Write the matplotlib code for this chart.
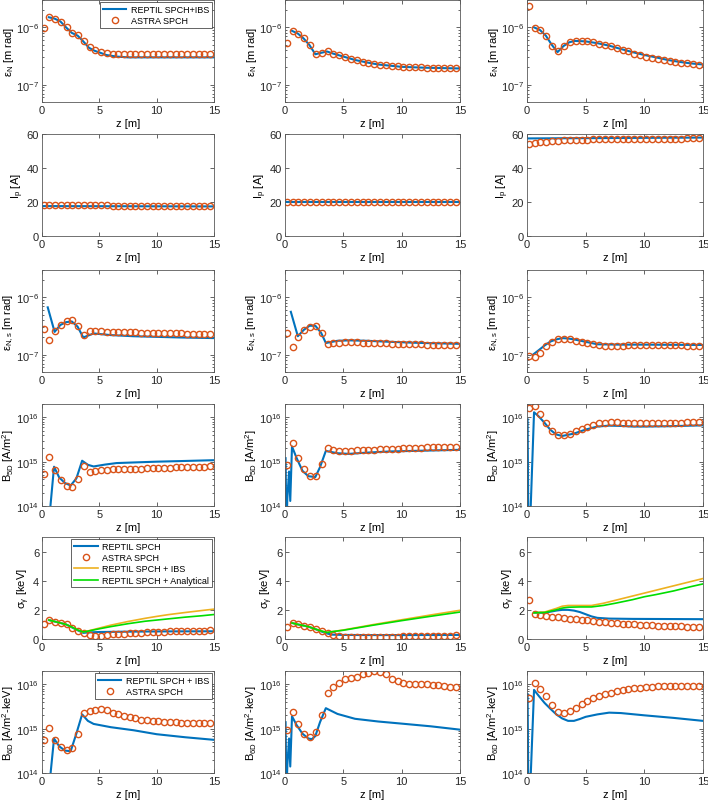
import numpy as np
import matplotlib.pyplot as plt

plt.rcParams['font.family'] = ['Liberation Sans', 'DejaVu Sans']
plt.rcParams['mathtext.fontset'] = 'custom'
plt.rcParams['mathtext.rm'] = 'Liberation Sans'
plt.rcParams['mathtext.it'] = 'Liberation Sans:italic'
plt.rcParams['mathtext.default'] = 'regular'
plt.rcParams['font.size'] = 8

# ---------------- data ----------------
# ASTRA sample positions (shared by every panel)
z_astra = [0.15, 0.65, 1.15, 1.65, 2.15, 2.65, 3.15, 3.65, 4.15, 4.65,
           5.15, 5.65, 6.15, 6.65, 7.15, 7.65, 8.15, 8.65, 9.15, 9.65,
           10.15, 10.65, 11.15, 11.65, 12.15, 12.65, 13.15, 13.65, 14.15, 14.65]

# row 1 : normalised emittance [1e-6 m rad]
eps_astra_1 = [0.97, 1.51, 1.41, 1.26, 1.0, 0.81, 0.73, 0.59, 0.45, 0.40, 0.37, 0.355, 0.345, 0.345, 0.345,
               0.345, 0.35, 0.35, 0.35, 0.35, 0.35, 0.35, 0.35, 0.35, 0.35, 0.35, 0.35, 0.35, 0.35, 0.35]
eps_rep_z_1 = [0.6, 1.1, 1.6, 2.1, 2.6, 3.1, 3.6, 4.1, 4.6, 5.1, 5.6, 6.5, 7.5, 9, 12, 15]
eps_rep_1 = [1.5, 1.42, 1.27, 1.0, 0.8, 0.72, 0.57, 0.44, 0.39, 0.36, 0.33, 0.31, 0.30, 0.30, 0.30, 0.30]
eps_astra_2 = [0.53, 0.88, 0.78, 0.65, 0.49, 0.35, 0.36, 0.39, 0.35, 0.33, 0.30, 0.28, 0.27, 0.25, 0.24,
               0.23, 0.225, 0.22, 0.215, 0.21, 0.205, 0.20, 0.20, 0.20, 0.197, 0.195, 0.195, 0.195, 0.193, 0.193]
eps_rep_z_2 = [0.6, 1.1, 1.6, 2.1, 2.6, 3.1, 3.6, 4.1, 5, 6, 7, 8, 9, 10, 12, 15]
eps_rep_2 = [0.87, 0.78, 0.64, 0.49, 0.34, 0.36, 0.38, 0.35, 0.31, 0.27, 0.245, 0.225, 0.215, 0.205, 0.198, 0.192]
eps_astra_3 = [2.4, 0.99, 0.9, 0.72, 0.48, 0.38, 0.48, 0.55, 0.58, 0.58, 0.57, 0.55, 0.52, 0.50, 0.47,
               0.44, 0.41, 0.385, 0.35, 0.33, 0.31, 0.295, 0.28, 0.27, 0.26, 0.25, 0.24, 0.235, 0.23, 0.225]
eps_rep_z_3 = [0.6, 1.1, 1.6, 2.1, 2.6, 3.1, 3.6, 4.1, 5, 6, 7, 8, 9, 10, 11, 12, 13, 14, 15]
eps_rep_3 = [1.0, 0.9, 0.72, 0.5, 0.37, 0.47, 0.55, 0.58, 0.57, 0.53, 0.48, 0.42, 0.37, 0.33, 0.30, 0.27, 0.25, 0.235, 0.225]

# row 2 : peak current [A]
ip_astra_1 = [18.2, 18.2, 18.1, 18.1, 18.1, 18.0, 18.0, 18.0, 18.0, 18.0, 18.0, 18.0, 17.9, 17.9, 17.9,
              17.9, 17.9, 17.9, 17.9, 17.9, 17.9, 17.9, 17.9, 17.9, 17.9, 17.9, 17.9, 17.9, 17.9, 17.9]
ip_rep_z_1 = [0.1, 15]
ip_rep_1 = [17.6, 17.4]
ip_astra_2 = [20.0, 20.0, 20.0, 20.0, 20.0, 20.0, 20.0, 20.0, 20.0, 20.0, 20.0, 20.0, 20.0, 20.0, 20.0,
              20.0, 20.0, 20.0, 20.0, 20.0, 20.0, 20.0, 20.0, 20.0, 20.0, 20.0, 20.0, 20.0, 20.0, 20.0]
ip_rep_z_2 = [0.1, 15]
ip_rep_2 = [19.8, 19.8]
ip_astra_3 = [54.3, 54.8, 55.2, 55.5, 55.8, 56.0, 56.2, 56.3, 56.5, 56.6, 56.7, 56.8, 56.9, 57.0, 57.0,
              57.1, 57.1, 57.2, 57.2, 57.2, 57.3, 57.3, 57.3, 57.3, 57.3, 57.3, 57.3, 57.4, 57.4, 57.4]
ip_rep_z_3 = [0.1, 15]
ip_rep_3 = [57.4, 57.9]

# row 3 : slice emittance [1e-6 m rad]
epss_astra_1 = [0.28, 0.18, 0.26, 0.33, 0.38, 0.40, 0.32, 0.225, 0.26, 0.26, 0.255, 0.25, 0.25, 0.248, 0.247,
                0.245, 0.245, 0.243, 0.242, 0.24, 0.24, 0.238, 0.237, 0.236, 0.235, 0.234, 0.233, 0.232, 0.231, 0.23]
epss_rep_z_1 = [0.5, 1.1, 1.6, 2.1, 2.6, 3.1, 3.6, 4.5, 6, 8, 10, 12, 15]
epss_rep_1 = [0.67, 0.25, 0.33, 0.37, 0.38, 0.31, 0.2, 0.235, 0.22, 0.21, 0.205, 0.2, 0.195]
epss_astra_2 = [0.24, 0.137, 0.2, 0.265, 0.31, 0.32, 0.235, 0.156, 0.158, 0.163, 0.165, 0.165, 0.164, 0.163, 0.162,
                0.16, 0.158, 0.157, 0.156, 0.155, 0.154, 0.153, 0.152, 0.151, 0.15, 0.15, 0.149, 0.149, 0.148, 0.148]
epss_rep_z_2 = [0.5, 1.1, 1.6, 2.1, 2.6, 3.1, 3.5, 4.5, 5.5, 7, 9, 11, 13, 15]
epss_rep_2 = [0.56, 0.21, 0.27, 0.32, 0.32, 0.24, 0.16, 0.175, 0.178, 0.175, 0.168, 0.162, 0.158, 0.155]
epss_astra_3 = [0.096, 0.09, 0.108, 0.14, 0.165, 0.185, 0.19, 0.185, 0.175, 0.165, 0.158, 0.152, 0.146, 0.144, 0.143,
                0.143, 0.144, 0.145, 0.146, 0.147, 0.147, 0.147, 0.147, 0.146, 0.146, 0.145, 0.145, 0.144, 0.144, 0.143]
epss_rep_z_3 = [0.5, 1, 1.5, 2, 2.5, 3, 3.5, 4, 5, 6, 8, 10, 12, 15]
epss_rep_3 = [0.1, 0.12, 0.145, 0.17, 0.185, 0.195, 0.192, 0.185, 0.168, 0.152, 0.15, 0.15, 0.149, 0.148]

# row 4 : 5D brightness [1e14 A/m^2]
b5_astra_1 = [5.2, 13, 6.5, 3.9, 2.85, 2.7, 4.0, 8.1, 6.0, 6.2, 6.5, 6.6, 6.7, 6.8, 6.9,
              6.9, 7.0, 7.0, 7.1, 7.1, 7.2, 7.3, 7.3, 7.4, 7.5, 7.5, 7.6, 7.7, 7.7, 7.8]
b5_rep_z_1 = [0.55, 1.05, 1.5, 2.0, 2.5, 3.0, 3.5, 4.0, 4.5, 5.5, 6.5, 8, 10, 12, 15]
b5_rep_1 = [0.3, 7.7, 4.4, 3.3, 2.9, 4.2, 10.5, 8.5, 7.8, 8.6, 9.3, 9.6, 10, 10.3, 10.8]
b5_astra_2 = [8.3, 27, 12, 6.7, 4.7, 4.7, 8.7, 20, 18.5, 17.5, 17.5, 17.5, 18, 18.3, 18.5,
              18.8, 19, 19.3, 19.5, 19.8, 20, 20.3, 20.5, 20.8, 21, 21, 21, 21.2, 21.3, 21.5]
b5_rep_z_2 = [0.05, 0.12, 0.2, 0.35, 0.45, 0.6, 1.0, 1.5, 2.0, 2.6, 3.0, 3.5, 4.5, 5.5, 7, 9, 11, 13, 15]
b5_rep_2 = [12, 0.3, 1.5, 6, 1.3, 22, 12, 6.2, 4.7, 4.5, 7.5, 17.5, 15.5, 15, 16, 17, 17.5, 18, 18.5]
b5_astra_3 = [164, 180, 120, 74, 49, 41, 40, 43, 49, 55, 62, 68, 73, 75, 78,
              77, 75, 74, 73, 73, 73, 73, 73, 73, 74, 75, 76, 77, 77, 78]
b5_rep_z_3 = [0.05, 0.12, 0.25, 0.6, 1.0, 1.5, 2.0, 2.5, 3.0, 4.0, 5.0, 6.0, 7.0, 8, 9, 10, 12, 15]
b5_rep_3 = [90, 0.3, 0.3, 130, 105, 75, 52, 41, 38, 43, 53, 62, 65, 64, 62, 62, 63, 66]

# row 5 : energy spread [keV]
sg_astra_1 = [1.0, 1.29, 1.2, 1.1, 1.0, 0.78, 0.55, 0.4, 0.27, 0.22, 0.24, 0.27, 0.31, 0.34, 0.37,
              0.4, 0.42, 0.44, 0.46, 0.48, 0.5, 0.51, 0.52, 0.53, 0.54, 0.55, 0.56, 0.57, 0.58, 0.6]
sg_rep_z_1 = [0.6, 1.1, 1.6, 2.1, 2.6, 3.1, 3.6, 4.0, 5, 7, 10, 15]
sg_rep_1 = [1.3, 1.2, 1.1, 1.0, 0.8, 0.6, 0.42, 0.45, 0.48, 0.5, 0.52, 0.53]
sg_ibs_z_1 = [0.6, 1.1, 1.6, 2.1, 2.6, 3.1, 3.6, 4.0, 5, 6, 7.5, 9, 10, 11, 12.5, 14, 15]
sg_ibs_1 = [1.3, 1.2, 1.1, 1.0, 0.82, 0.62, 0.48, 0.55, 0.75, 0.95, 1.2, 1.42, 1.55, 1.67, 1.82, 1.96, 2.05]
sg_ana_1 = [1.3, 1.2, 1.1, 1.0, 0.82, 0.62, 0.48, 0.54, 0.7, 0.85, 1.05, 1.22, 1.3, 1.38, 1.5, 1.6, 1.68]
sg_astra_2 = [0.85, 1.1, 1.0, 0.92, 0.82, 0.68, 0.52, 0.38, 0.27, 0.2, 0.17, 0.15, 0.14, 0.14, 0.14,
              0.14, 0.15, 0.15, 0.16, 0.17, 0.18, 0.19, 0.2, 0.21, 0.22, 0.22, 0.23, 0.23, 0.24, 0.25]
sg_rep_z_2 = [0.6, 1.1, 1.6, 2.1, 2.6, 3.1, 3.6, 4.0, 5, 7, 10, 15]
sg_rep_2 = [1.1, 1.0, 0.92, 0.82, 0.68, 0.52, 0.38, 0.3, 0.28, 0.27, 0.27, 0.28]
sg_ibs_z_2 = [0.6, 1.1, 1.6, 2.1, 2.6, 3.1, 3.6, 4.0, 5, 7.5, 10, 12.5, 15]
sg_ibs_2 = [1.1, 1.0, 0.92, 0.82, 0.68, 0.55, 0.45, 0.5, 0.62, 0.98, 1.32, 1.65, 1.97]
sg_ana_2 = [1.1, 1.0, 0.92, 0.82, 0.68, 0.55, 0.45, 0.5, 0.6, 0.94, 1.26, 1.56, 1.85]
sg_astra_3 = [2.7, 1.75, 1.62, 1.55, 1.5, 1.48, 1.45, 1.4, 1.36, 1.32, 1.28, 1.24, 1.2, 1.16, 1.12,
              1.08, 1.05, 1.02, 1.0, 0.97, 0.95, 0.93, 0.91, 0.9, 0.88, 0.87, 0.86, 0.85, 0.85, 0.84]
sg_rep_z_3 = [0.6, 1.5, 2.5, 3.0, 3.5, 4.0, 4.5, 5, 5.5, 6, 7, 9, 12, 15]
sg_rep_3 = [1.8, 1.8, 1.95, 2.0, 2.0, 1.95, 1.85, 1.7, 1.55, 1.45, 1.4, 1.38, 1.37, 1.36]
sg_ibs_z_3 = [0.6, 1.5, 2.5, 3.0, 3.5, 4.5, 5.5, 6.5, 7.5, 9, 10, 11, 12.5, 14, 15]
sg_ibs_3 = [1.8, 1.85, 2.1, 2.25, 2.3, 2.3, 2.3, 2.45, 2.65, 2.95, 3.15, 3.35, 3.65, 3.95, 4.15]
sg_ana_3 = [1.8, 1.82, 2.0, 2.12, 2.18, 2.2, 2.2, 2.3, 2.45, 2.7, 2.9, 3.05, 3.3, 3.6, 3.78]

# row 6 : 6D brightness [1e14 A/m^2-keV]
b6_astra_1 = [5.6, 10.3, 5.6, 3.85, 3.3, 3.7, 7.5, 22, 25, 27, 28, 26, 23, 21, 19.5,
              18, 17, 16, 15.5, 15, 14.6, 14.3, 14, 13.8, 13.6, 13.5, 13.4, 13.3, 13.2, 13.1]
b6_rep_z_1 = [0.55, 1.05, 1.5, 2.0, 2.5, 3.0, 3.5, 4.0, 4.5, 6, 8, 10, 12.5, 15]
b6_rep_1 = [0.3, 6.0, 4.0, 3.2, 3.1, 7.8, 21, 15, 12.8, 10.8, 9.2, 7.5, 6.4, 5.6]
b6_astra_2 = [9.2, 24, 12.5, 7.7, 6.5, 8.4, 20.5, 65, 85, 110, 130, 140, 150, 167, 180,
              200, 190, 167, 130, 120, 110, 103, 100, 100, 100, 97, 95, 91, 88, 85]
b6_rep_z_2 = [0.05, 0.12, 0.2, 0.35, 0.45, 0.6, 1.0, 1.5, 2.0, 2.3, 2.6, 3.0, 3.5, 4.5, 6, 8, 10, 12.5, 15]
b6_rep_2 = [14, 0.3, 1.5, 6, 1.4, 19, 12, 7.7, 6.0, 5.8, 6.8, 14, 29, 21.5, 16.7, 14.5, 13, 11.3, 9.5]
b6_astra_3 = [50, 110, 80, 55, 35, 24, 22, 25, 30, 36, 42, 48, 54, 60, 65,
              70, 74, 78, 81, 84, 86, 88, 90, 91, 92, 92, 92, 92, 92, 92]
b6_rep_z_3 = [0.05, 0.12, 0.25, 0.6, 1.0, 1.5, 2.0, 2.5, 3.0, 3.5, 4.0, 4.5, 5, 6, 7, 8, 10, 12.5, 15]
b6_rep_3 = [60, 0.3, 0.3, 75, 55, 38, 28, 21, 17, 15, 15, 16.5, 18.5, 21, 23, 22.5, 20, 17.5, 15]

# ---------------- figure ----------------
blue = '#0072BD'
orange = '#D95319'
yellow = '#EDB120'
green = '#00DD00'

W, H = 708, 804
fig = plt.figure(figsize=(W / 100, H / 100), dpi=100)
col_left = [42, 285, 527]
col_w = [172, 175, 176]
row_top = [1, 135, 271, 405, 538, 672]
row_h = 102

rows = [
    dict(astra=[eps_astra_1, eps_astra_2, eps_astra_3], rz=[eps_rep_z_1, eps_rep_z_2, eps_rep_z_3],
         rv=[eps_rep_1, eps_rep_2, eps_rep_3], scale=1e-6, log=True, ylim=(5e-8, 3e-6),
         ylabel=r'$\epsilon_N$ [m rad]'),
    dict(astra=[ip_astra_1, ip_astra_2, ip_astra_3], rz=[ip_rep_z_1, ip_rep_z_2, ip_rep_z_3],
         rv=[ip_rep_1, ip_rep_2, ip_rep_3], scale=1, log=False, ylim=(0, 60),
         ylabel=r'$I_p$ [A]'),
    dict(astra=[epss_astra_1, epss_astra_2, epss_astra_3], rz=[epss_rep_z_1, epss_rep_z_2, epss_rep_z_3],
         rv=[epss_rep_1, epss_rep_2, epss_rep_3], scale=1e-6, log=True, ylim=(5e-8, 3e-6),
         ylabel=r'$\epsilon_{N,s}$ [m rad]'),
    dict(astra=[b5_astra_1, b5_astra_2, b5_astra_3], rz=[b5_rep_z_1, b5_rep_z_2, b5_rep_z_3],
         rv=[b5_rep_1, b5_rep_2, b5_rep_3], scale=1e14, log=True, ylim=(1e14, 2e16),
         ylabel=r'$B_{5D}$ [A/m$^2$]'),
    dict(astra=[sg_astra_1, sg_astra_2, sg_astra_3], rz=[sg_rep_z_1, sg_rep_z_2, sg_rep_z_3],
         rv=[sg_rep_1, sg_rep_2, sg_rep_3], scale=1, log=False, ylim=(0, 7),
         ylabel=r'$\sigma_\gamma$ [keV]'),
    dict(astra=[b6_astra_1, b6_astra_2, b6_astra_3], rz=[b6_rep_z_1, b6_rep_z_2, b6_rep_z_3],
         rv=[b6_rep_1, b6_rep_2, b6_rep_3], scale=1e14, log=True, ylim=(1e14, 2e16),
         ylabel=r'$B_{6D}$ [A/m$^2$-keV]'),
]
sg_ibs_z = [sg_ibs_z_1, sg_ibs_z_2, sg_ibs_z_3]
sg_ibs = [sg_ibs_1, sg_ibs_2, sg_ibs_3]
sg_ana = [sg_ana_1, sg_ana_2, sg_ana_3]

for r, spec in enumerate(rows):
    for c in range(3):
        ax = fig.add_axes([col_left[c] / W, 1 - (row_top[r] + row_h) / H, col_w[c] / W, row_h / H])
        sc = spec['scale']
        hb, = ax.plot(spec['rz'][c], np.array(spec['rv'][c]) * sc, color=blue, lw=1.5)
        ho, = ax.plot(z_astra, np.array(spec['astra'][c]) * sc, 'o', ms=4.5, mfc='none',
                      mec=orange, mew=1.0)
        handles = [hb, ho]
        if r == 4:
            hy, = ax.plot(sg_ibs_z[c], sg_ibs[c], color=yellow, lw=1.2)
            hg, = ax.plot(sg_ibs_z[c], sg_ana[c], color=green, lw=1.2)
            handles += [hy, hg]
        if spec['log']:
            ax.set_yscale('log')
        else:
            ax.set_yticks([0, 20, 40, 60] if r == 1 else [0, 2, 4, 6])
        ax.set_ylim(*spec['ylim'])
        ax.set_xlim(0, 15)
        ax.set_xticks([0, 5, 10, 15])
        ax.set_xlabel('z [m]', labelpad=2)
        ax.set_ylabel(spec['ylabel'], labelpad=0.5)
        ax.tick_params(which='both', direction='in', top=True, right=True, width=0.5,
                       colors='#262626', labelsize=8, pad=2)
        ax.tick_params(which='major', length=3)
        ax.tick_params(which='minor', length=1.5)
        for s in ax.spines.values():
            s.set_color('#5a5a5a')
            s.set_linewidth(0.6)

        leg_kw = dict(loc='upper right', fontsize=6.5, fancybox=False, framealpha=1,
                      edgecolor='#262626', borderpad=0.3, labelspacing=0.25,
                      handlelength=2.6, handletextpad=0.5, borderaxespad=0.25)
        if r == 0 and c == 0:
            lg = ax.legend(handles, ['REPTIL SPCH+IBS', 'ASTRA SPCH'], **leg_kw)
            lg.get_frame().set_linewidth(0.5)
        if r == 4 and c == 0:
            lg = ax.legend(handles, ['REPTIL SPCH', 'ASTRA SPCH', 'REPTIL SPCH + IBS',
                                     'REPTIL SPCH + Analytical'], **leg_kw)
            lg.get_frame().set_linewidth(0.5)
        if r == 5 and c == 0:
            lg = ax.legend(handles, ['REPTIL SPCH + IBS', 'ASTRA SPCH'], **leg_kw)
            lg.get_frame().set_linewidth(0.5)

fig.savefig('out.png', dpi=100)
